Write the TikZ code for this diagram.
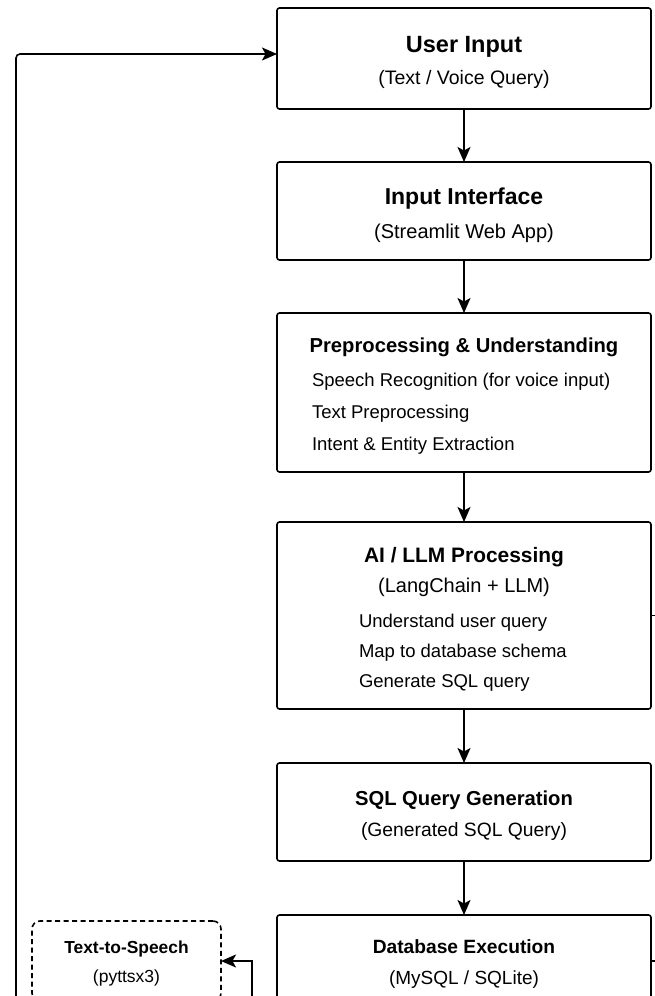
\documentclass[tikz,border=0pt]{standalone}
\usepackage{fontspec}
\setmainfont{Liberation Sans}
\usetikzlibrary{positioning,arrows.meta}

\newcommand\stagetitle[2][20.5]{{\fontsize{#1}{#1}\selectfont\bfseries\rule{0pt}{1.05\dimexpr#1pt\relax}#2}}
\newcommand\stageline[2]{\makebox[#1][l]{#2}}

\begin{document}
\begin{tikzpicture}[x=1pt,y=-1pt,-,line width=1.6pt,node distance=53pt,
    stage/.style={draw,rounded corners=2.5pt,minimum width=374pt,inner sep=0pt,outer sep=0pt,align=center,font=\fontsize{19.5}{32}\selectfont},
    ttsbox/.style={draw,dashed,dash pattern=on 5pt off 3.5pt,rounded corners=8pt,minimum width=189pt,minimum height=80pt,inner sep=0pt,outer sep=0pt,align=center,font=\fontsize{17.5}{29}\selectfont},
    flow/.style={-{Stealth[length=15pt,width=13pt,inset=3.5pt]}}]
    \useasboundingbox (0,0) rectangle (655,996);
    \clip (0,0) rectangle (655,996);

    % main pipeline
    \node[stage, minimum height=101pt] (userin) at (464,58.5) {\stagetitle[23.5]{User Input}\\(Text / Voice Query)};
    \node[stage, minimum height=98pt, below=of userin, font=\fontsize{20}{34}\selectfont] (iface) {\stagetitle[23]{Input Interface}\\(Streamlit Web App)};
    \node[stage, minimum height=159pt, below=of iface, font=\fontsize{18.5}{32}\selectfont] (prep) {\stagetitle[20.2]{Preprocessing \& Understanding}\\[2pt]
        \stageline{304pt}{Speech Recognition (for voice input)}\\
        \stageline{304pt}{Text Preprocessing}\\
        \stageline{304pt}{Intent \& Entity Extraction}};
    \node[stage, minimum height=187pt, below=50pt of prep, font=\fontsize{18.5}{30}\selectfont] (llm) {\stagetitle[20.9]{AI / LLM Processing}\\
        {\fontsize{20}{30}\selectfont(LangChain + LLM)}\\[5pt]
        \stageline{210pt}{Understand user query}\\
        \stageline{210pt}{Map to database schema}\\
        \stageline{210pt}{Generate SQL query}};
    \node[stage, minimum height=98pt, below=54pt of llm, font=\fontsize{19.3}{31}\selectfont] (sqlgen) {\stagetitle[20.2]{SQL Query Generation}\\(Generated SQL Query)};
    \node[stage, minimum height=92pt, below=54pt of sqlgen, font=\fontsize{19}{31}\selectfont] (dbexec) {\stagetitle[19.2]{Database Execution}\\(MySQL / SQLite)};

    % spoken answer
    \node[ttsbox, left=56pt of dbexec] (tts) {\stagetitle[17.4]{Text-to-Speech}\\(pyttsx3)};

    \coordinate (ttsfeed) at (252,1010);
    \coordinate (loopfoot) at (16,1010);

    \draw[flow] (userin) -- (iface);
    \draw[flow] (iface) -- (prep);
    \draw[flow] (prep) -- (llm);
    \draw[flow] (llm) -- (sqlgen);
    \draw[flow] (sqlgen) -- (dbexec);

    \draw[flow] (ttsfeed) |- (tts.east);
    \draw[flow, rounded corners=4pt] (loopfoot) |- ([yshift=4.5pt]userin.west);

    \draw (llm.east) -- ++(12,0);
    \draw (dbexec.east) -- ++(12,0);
\end{tikzpicture}
\end{document}
